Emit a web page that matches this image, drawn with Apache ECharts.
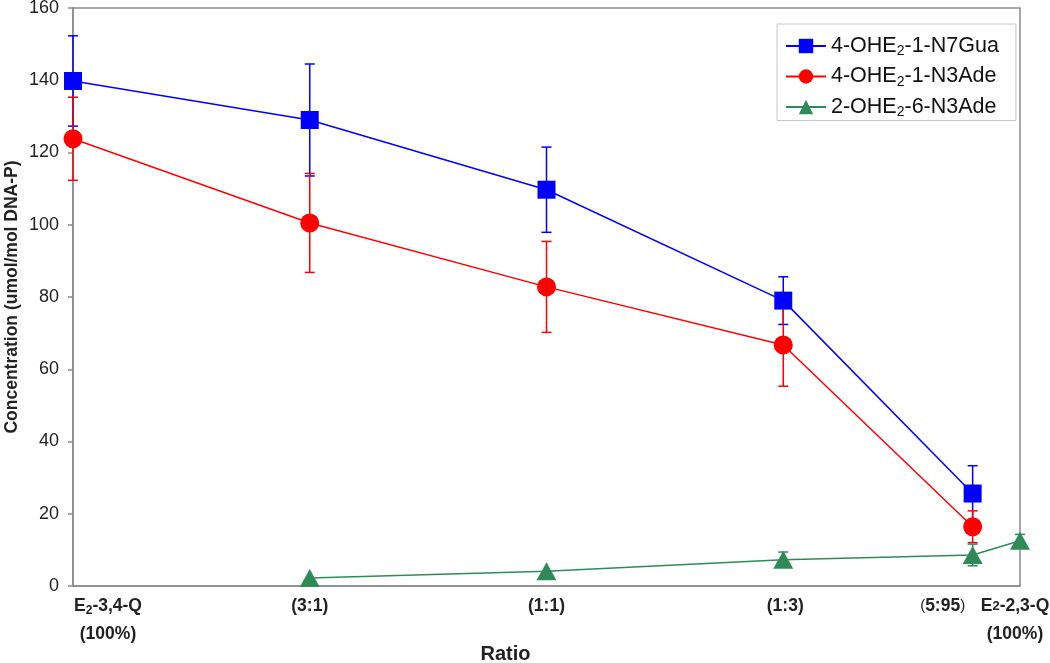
<!DOCTYPE html>
<html><head><meta charset="utf-8">
<script src="https://cdn.jsdelivr.net/npm/echarts@6/dist/echarts.min.js"></script>
<style>html,body{margin:0;padding:0;background:#fff}#c{width:1050px;height:663px}</style>
</head><body><div id="c"></div>
<script>
// x positions: % of E2-2,3-Q in the mixture
const ratioPos = [0, 25, 50, 75, 95, 100];
const tickLabels = ['E{s|2}-3,4-Q\n(100%)', '(3:1)', '(1:1)', '(1:3)', '{p|(}5:95{p|)}', 'E{t|2}-2,3-Q\n(100%)'];
const yTicks = [0, 20, 40, 60, 80, 100, 120, 140, 160];
const seriesNames = ['4-OHE2-1-N7Gua', '4-OHE2-1-N3Ade', '2-OHE2-6-N3Ade'];
const gua    = [139.8, 129.0, 109.7, 79.0, 25.6, null];
const guaErr = [12.5, 15.5, 11.8, 6.6, 7.7, null];
const ade    = [123.8, 100.5, 82.8, 66.7, 16.4, null];
const adeErr = [11.5, 13.7, 12.6, 11.4, 4.4, null];
const n3a    = [null, 2.2, 4.1, 7.3, 8.6, 12.5];
const n3aErr = [null, 0, 0, 2.1, 3.0, 1.8];

const FONT = 'Liberation Sans';
const chart = echarts.init(document.getElementById('c'), null, {renderer: 'canvas'});

function pts(vals) {
  const out = [];
  ratioPos.forEach((x, i) => { if (vals[i] != null) out.push([x, vals[i]]); });
  return out;
}
function errSeries(vals, errs, color) {
  const data = [];
  ratioPos.forEach((x, i) => {
    if (vals[i] != null && errs[i]) data.push([x, vals[i] - errs[i], vals[i] + errs[i]]);
  });
  return {
    type: 'custom', data, silent: true, z: 1,
    encode: {x: 0, y: [1, 2]},
    renderItem(params, api) {
      const x = api.value(0);
      const lo = api.coord([x, api.value(1)]);
      const hi = api.coord([x, api.value(2)]);
      const w = 5;
      const st = {stroke: color, lineWidth: 1.5};
      return {type: 'group', children: [
        {type: 'line', shape: {x1: lo[0], y1: lo[1], x2: hi[0], y2: hi[1]}, style: st},
        {type: 'line', shape: {x1: lo[0] - w, y1: lo[1], x2: lo[0] + w, y2: lo[1]}, style: st},
        {type: 'line', shape: {x1: hi[0] - w, y1: hi[1], x2: hi[0] + w, y2: hi[1]}, style: st}
      ]};
    }
  };
}
const colors = ['#0000FF', '#FF0000', '#2E8B57'];
const symbols = ['rect', 'circle', 'triangle'];
const symSizes = [18, 19, [20, 18]];
const vals = [gua, ade, n3a];
const errs = [guaErr, adeErr, n3aErr];

const lineSeries = seriesNames.map((name, k) => ({
  name, type: 'line', data: pts(vals[k]),
  symbol: symbols[k], symbolSize: symSizes[k],
  lineStyle: {color: colors[k], width: 1.5},
  itemStyle: {color: colors[k]},
  z: 3
}));

const option = {
  animation: false,
  backgroundColor: '#fff',
  grid: {left: 73, right: 30, top: 8, bottom: 77, show: true, borderColor: '#8a8a8a', borderWidth: 1.5,
    outerBoundsMode: 'none', containLabel: false},
  legend: {
    orient: 'vertical', left: 777, top: 24,
    data: seriesNames,
    padding: [11, 17, 1, 8],
    itemWidth: 40, itemHeight: 18, itemGap: 7,
    borderColor: '#c8c8c8', borderWidth: 1, backgroundColor: '#fff',
    formatter: n => n.replace('E2', 'E{s|2}'),
    textStyle: {fontFamily: FONT, fontSize: 21.5, color: '#111',
      rich: {s: {fontFamily: FONT, fontSize: 14, color: '#111', padding: [11, 0, 0, 0]}}}
  },
  xAxis: {
    type: 'value', min: 0, max: 100,
    name: 'Ratio', nameLocation: 'middle', nameGap: 58, nameMoveOverlap: false,
    nameTextStyle: {fontFamily: FONT, fontSize: 20, fontWeight: 'bold', color: '#222', padding: [0, 82, 0, 0]},
    axisLine: {show: true, lineStyle: {color: '#8a8a8a', width: 1.5}},
    axisTick: {show: false}, axisLabel: {show: false}, splitLine: {show: false}
  },
  yAxis: {
    type: 'value', min: 0, max: 160, interval: 20,
    name: 'Concentration (umol/mol DNA-P)', nameLocation: 'middle', nameGap: 52, nameMoveOverlap: false,
    nameTextStyle: {fontFamily: FONT, fontSize: 17.5, fontWeight: 'bold', color: '#222'},
    axisLine: {show: true, lineStyle: {color: '#8a8a8a', width: 1.5}},
    axisTick: {show: true, length: 5, lineStyle: {color: '#8a8a8a', width: 1.5}},
    axisLabel: {fontFamily: FONT, fontSize: 18, color: '#222', margin: 14,
      formatter: v => yTicks.includes(v) ? String(v) : ''},
    splitLine: {show: false}
  },
  series: [
    errSeries(gua, guaErr, colors[0]),
    errSeries(ade, adeErr, colors[1]),
    errSeries(n3a, n3aErr, colors[2]),
    ...lineSeries
  ]
};
chart.setOption(option);

const baseY = chart.convertToPixel({gridIndex: 0}, [0, 0])[1];
const labelShift = [35, 0, 0, 2, -30, -5];
const rich = {
  s: {fontFamily: FONT, fontSize: 12, fontWeight: 'bold', fill: '#222', padding: [9, 0, 0, 0]},
  t: {fontFamily: FONT, fontSize: 13, fontWeight: 'bold', fill: '#222'},
  p: {fontFamily: FONT, fontSize: 15, fontWeight: 'normal', fill: '#222'}
};
chart.setOption({graphic: ratioPos.map((x, i) => ({
  type: 'text', silent: true,
  x: chart.convertToPixel({xAxisIndex: 0}, x) + labelShift[i],
  y: baseY + 6,
  style: {text: tickLabels[i], align: 'center', verticalAlign: 'top',
    fontFamily: FONT, fontSize: 17.5, fontWeight: 'bold', fill: '#222', lineHeight: 28, rich}
}))});
</script></body></html>
